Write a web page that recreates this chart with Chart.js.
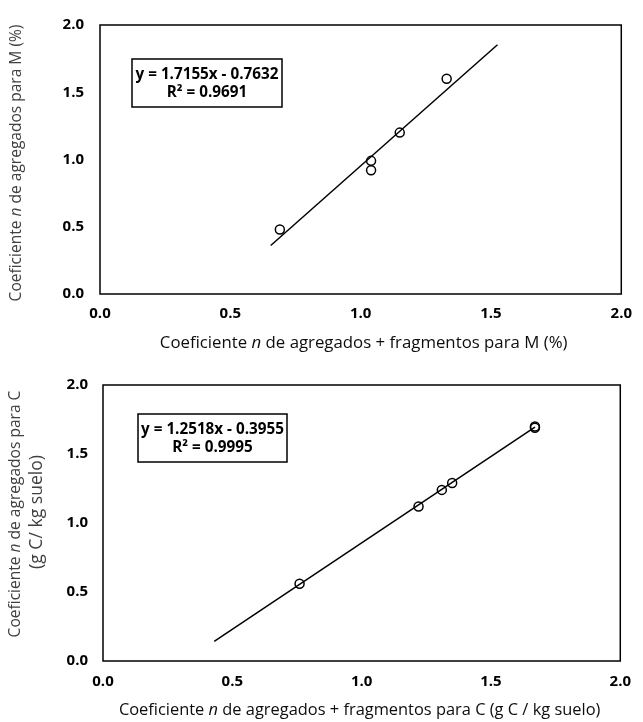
<!DOCTYPE html>
<html>
<head>
<meta charset="utf-8">
<script src="https://cdn.jsdelivr.net/npm/chart.js@4.4.1/dist/chart.umd.min.js"></script>
<style>
  html, body { margin: 0; padding: 0; background: #ffffff; }
  #wrap { position: relative; width: 643px; height: 722px; overflow: hidden; }
  canvas { position: absolute; left: 0; }
  #c1 { top: 0; }
  #c2 { top: 361px; }
</style>
</head>
<body>
<div id="wrap">
  <canvas id="c1" width="643" height="361"></canvas>
  <canvas id="c2" width="643" height="361"></canvas>
</div>
<script>
// ---------- DATA ----------
const tickValues = [0.0, 0.5, 1.0, 1.5, 2.0];
const tickLabels = ['0.0', '0.5', '1.0', '1.5', '2.0'];

// Chart 1: M (%)
const mX = [0.69, 1.04, 1.04, 1.15, 1.33];
const mY = [0.48, 0.99, 0.92, 1.20, 1.60];
const mFitRangeX = [0.655, 1.525];
const mSlope = 1.7155;
const mIntercept = -0.7632;
const mEquation = 'y = 1.7155x - 0.7632';
const mR2 = 'R\u00b2 = 0.9691';

// Chart 2: C (g C / kg suelo)
const cX = [0.76, 1.22, 1.31, 1.35, 1.67, 1.67];
const cY = [0.56, 1.12, 1.24, 1.29, 1.70, 1.69];
const cFitRangeX = [0.43, 1.67];
const cSlope = 1.2518;
const cIntercept = -0.3955;
const cEquation = 'y = 1.2518x - 0.3955';
const cR2 = 'R\u00b2 = 0.9995';

// ---------- HELPERS ----------
const FAM = "'Open Sans', 'DejaVu Sans', sans-serif";

function toPoints(xs, ys) { return xs.map((x, i) => ({ x: x, y: ys[i] })); }
function fitLine(range, m, b) { return range.map(x => ({ x: x, y: m * x + b })); }

function richWidth(ctx, parts, size, weight) {
  let w = 0;
  for (const p of parts) {
    ctx.font = (p.i ? 'italic ' : '') + weight + ' ' + size + 'px ' + FAM;
    w += ctx.measureText(p.t).width;
  }
  return w;
}
function drawRich(ctx, parts, cx, cy, targetW, weight, color, rotate) {
  const size = 10 * targetW / richWidth(ctx, parts, 10, weight);
  const total = richWidth(ctx, parts, size, weight);
  ctx.save();
  ctx.translate(cx, cy);
  if (rotate) ctx.rotate(-Math.PI / 2);
  ctx.fillStyle = color;
  ctx.textBaseline = 'middle';
  ctx.textAlign = 'left';
  let x = -total / 2;
  for (const p of parts) {
    ctx.font = (p.i ? 'italic ' : '') + weight + ' ' + size + 'px ' + FAM;
    ctx.fillText(p.t, x, 0);
    x += ctx.measureText(p.t).width;
  }
  ctx.restore();
}

const decor = {
  id: 'decor',
  afterDraw(chart, args, o) {
    const ctx = chart.ctx, a = chart.chartArea;
    ctx.save();
    // plot frame
    ctx.strokeStyle = '#000000';
    ctx.lineWidth = 1.5;
    ctx.strokeRect(a.left, a.top, a.right - a.left, a.bottom - a.top);
    // equation box
    const bx = a.left + o.box.dx, by = a.top + o.box.dy;
    ctx.fillStyle = '#ffffff';
    ctx.fillRect(bx, by, o.box.w, o.box.h);
    ctx.strokeRect(bx, by, o.box.w, o.box.h);
    ctx.restore();
    // equation text
    ctx.save();
    ctx.font = 'bold 10px ' + FAM;
    const eqSize = 10 * o.box.textW / ctx.measureText(o.eq).width;
    ctx.font = 'bold ' + eqSize + 'px ' + FAM;
    ctx.fillStyle = '#000000';
    ctx.textAlign = 'center';
    ctx.textBaseline = 'middle';
    ctx.fillText(o.eq, bx + o.box.w / 2, by + o.box.l1);
    ctx.fillText(o.r2, bx + o.box.w / 2, by + o.box.l2);
    ctx.restore();
    // axis titles
    const xc = (a.left + a.right) / 2 + o.xTitle.dx;
    drawRich(ctx, o.xTitle.parts, xc, o.xTitle.y, o.xTitle.w, 'normal', '#0d0d0d', false);
    for (const t of o.yTitles) {
      drawRich(ctx, t.parts, t.x, t.y, t.w, 'normal', '#404040', true);
    }
  }
};

function makeScales(yWidth, xHeight, yPad, xPad) {
  const common = {
    type: 'linear', min: 0, max: 2,
    grid: { display: false, drawTicks: false },
    border: { display: false },
    afterBuildTicks: s => { s.ticks = tickValues.map(v => ({ value: v })); },
  };
  return {
    x: Object.assign({}, common, {
      position: 'bottom',
      ticks: { padding: xPad, color: '#000000', maxRotation: 0,
               font: { family: FAM, size: 15, weight: 'bold' },
               callback: (v, i) => tickLabels[i] },
      afterFit: s => { s.height = xHeight; }
    }),
    y: Object.assign({}, common, {
      position: 'left',
      ticks: { padding: yPad, color: '#000000',
               font: { family: FAM, size: 15, weight: 'bold' },
               callback: (v, i) => tickLabels[i] },
      afterFit: s => { s.width = yWidth; }
    })
  };
}

function makeChart(id, pts, fit, pad, scales, decorOpts) {
  return new Chart(document.getElementById(id), {
    type: 'scatter',
    data: {
      datasets: [
        { data: fit, showLine: true, borderColor: '#000000', borderWidth: 1.5,
          pointRadius: 0, fill: false },
        { data: pts, pointStyle: 'circle', pointRadius: 4.5, borderWidth: 1.5,
          borderColor: '#000000', backgroundColor: 'rgba(0,0,0,0)' }
      ]
    },
    options: {
      responsive: false, animation: false, devicePixelRatio: 1,
      layout: { padding: pad },
      scales: scales,
      plugins: { legend: { display: false }, tooltip: { enabled: false }, decor: decorOpts }
    },
    plugins: [decor]
  });
}

// ---------- CHART 1 ----------
makeChart('c1',
  toPoints(mX, mY),
  fitLine(mFitRangeX, mSlope, mIntercept),
  { top: 16, right: 13, left: 0, bottom: 0 },
  makeScales(100, 67, 16, 11),
  {
    eq: mEquation, r2: mR2,
    box: { dx: 32, dy: 34, w: 150, h: 48, textW: 143, l1: 16, l2: 34 },
    xTitle: { parts: [{ t: 'Coeficiente ' }, { t: 'n', i: true }, { t: ' de agregados + fragmentos para M (%)' }],
              y: 343, w: 408, dx: 3 },
    yTitles: [
      { parts: [{ t: 'Coeficiente ' }, { t: 'n', i: true }, { t: ' de agregados para M (%)' }],
        x: 17, y: 163, w: 277 }
    ]
  });

// ---------- CHART 2 ----------
makeChart('c2',
  toPoints(cX, cY),
  fitLine(cFitRangeX, cSlope, cIntercept),
  { top: 23, right: 10, left: 0, bottom: 0 },
  makeScales(103, 61, 15, 12),
  {
    eq: cEquation, r2: cR2,
    box: { dx: 35, dy: 29, w: 149, h: 48, textW: 143, l1: 16, l2: 34 },
    xTitle: { parts: [{ t: 'Coeficiente ' }, { t: 'n', i: true }, { t: ' de agregados + fragmentos para C (g C / kg suelo)' }],
              y: 349, w: 482, dx: -2 },
    yTitles: [
      { parts: [{ t: 'Coeficiente ' }, { t: 'n', i: true }, { t: ' de agregados para C' }],
        x: 16, y: 153, w: 247 },
      { parts: [{ t: '(g C/ kg suelo)' }],
        x: 37, y: 151, w: 114 }
    ]
  });
</script>
</body>
</html>
